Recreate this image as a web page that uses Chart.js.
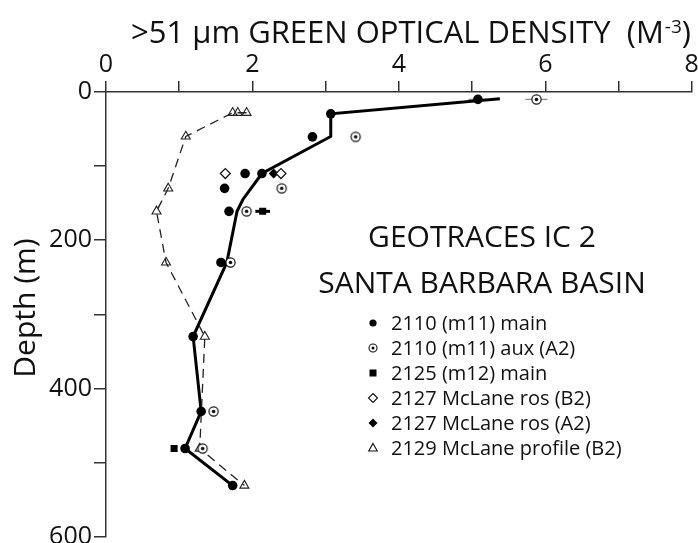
<!DOCTYPE html>
<html>
<head>
<meta charset="utf-8">
<script src="https://cdn.jsdelivr.net/npm/chart.js@4.4.0/dist/chart.umd.min.js"></script>
<style>
  html, body { margin: 0; padding: 0; background: #fff; }
  #wrap { width: 698px; height: 543px; }
</style>
</head>
<body>
<div id="wrap"><canvas id="chart" width="698" height="543"></canvas></div>
<script>
const FONT = "'Open Sans', sans-serif";

// tick labels (only these get text, the odd ones are bare ticks)
const xLabelTicks = [0, 2, 4, 6, 8];
const yLabelTicks = [0, 200, 400, 600];

// 2110 (m11) main
const mainX = [5.08, 3.07, 2.82, 1.90, 2.13, 1.62, 1.68, 1.57, 1.19, 1.30, 1.08, 1.73];
const mainDepth = [10, 29.5, 60.5, 110, 110, 130, 161, 230, 330, 431, 481, 531];
const mainErr = [0.13, 0, 0, 0, 0, 0, 0, 0, 0, 0, 0, 0];

// 2110 (m11) aux (A2)
const auxX = [5.88, 3.41, 2.40, 1.92, 1.70, 1.47, 1.32];
const auxDepth = [10, 60.5, 130, 161, 230, 431, 481];
const auxErr = [0.15, 0, 0, 0, 0, 0, 0];

// 2125 (m12) main
const sqX = [2.14, 0.93];
const sqDepth = [161, 481];
const sqErr = [0.1, 0];

// 2127 McLane ros (B2) / (A2)
const rosBX = [1.63, 2.39];
const rosBDepth = [110, 110];
const rosAX = [2.29];
const rosADepth = [110];

// 2129 McLane profile (B2)
const profX = [1.92, 1.80, 1.73, 1.09, 0.85, 0.69, 0.82, 1.35, 1.28, 1.89];
const profDepth = [28, 28, 28, 60, 130, 161, 230, 330, 481, 531];

// mean profile (thick line)
const meanX = [5.38, 3.07, 3.07, 2.13, 1.87, 1.79, 1.65, 1.19, 1.30, 1.08, 1.73];
const meanDepth = [9, 29.5, 60, 110, 145, 161, 230, 330, 431, 481, 531];

const legendLabels = [
  '2110 (m11) main',
  '2110 (m11) aux (A2)',
  '2125 (m12) main',
  '2127 McLane ros (B2)',
  '2127 McLane ros (A2)',
  '2129 McLane profile (B2)'
];

function pts(xs, ys) {
  return xs.map((v, i) => ({ x: v, y: ys[i] }));
}

// circle with a dot in it
const bullseye = (() => {
  const c = document.createElement('canvas');
  c.width = 13; c.height = 13;
  const g = c.getContext('2d');
  g.fillStyle = '#fff';
  g.strokeStyle = '#111';
  g.lineWidth = 1.2;
  g.beginPath(); g.arc(6.5, 6.5, 4.6, 0, Math.PI * 2); g.fill(); g.stroke();
  g.fillStyle = '#111';
  g.beginPath(); g.arc(6.5, 6.5, 1.8, 0, Math.PI * 2); g.fill();
  return c;
})();

const datasets = [
  {
    label: legendLabels[0], data: pts(mainX, mainDepth), xErr: mainErr, errColor: '#8a8a8a', errWidth: 1.3,
    pointStyle: 'circle', pointRadius: 4.8, pointBackgroundColor: '#000', pointBorderColor: '#000', pointBorderWidth: 0
  },
  {
    label: legendLabels[1], data: pts(auxX, auxDepth), xErr: auxErr, errColor: '#8a8a8a', errWidth: 1.3,
    pointStyle: bullseye, pointRadius: 5
  },
  {
    label: legendLabels[2], data: pts(sqX, sqDepth), xErr: sqErr, errColor: '#000', errWidth: 3,
    pointStyle: 'rect', pointRadius: 5, pointBackgroundColor: '#000', pointBorderColor: '#000', pointBorderWidth: 0
  },
  {
    label: legendLabels[3], data: pts(rosBX, rosBDepth),
    pointStyle: 'rectRot', pointRadius: 5, pointBackgroundColor: '#fff', pointBorderColor: '#111', pointBorderWidth: 1.2
  },
  {
    label: legendLabels[4], data: pts(rosAX, rosADepth),
    pointStyle: 'rectRot', pointRadius: 5, pointBackgroundColor: '#000', pointBorderColor: '#000', pointBorderWidth: 0
  },
  {
    label: legendLabels[5], data: pts(profX, profDepth),
    showLine: true, borderColor: '#222', borderWidth: 1.3, borderDash: [9, 6],
    pointStyle: 'triangle', pointRadius: 5.2, pointBackgroundColor: 'rgba(255,255,255,0)',
    pointBorderColor: '#222', pointBorderWidth: 1.1
  },
  {
    label: 'mean', data: pts(meanX, meanDepth),
    showLine: true, borderColor: '#000', borderWidth: 3, pointRadius: 0, tension: 0
  }
];

const errorBars = {
  id: 'errorBars',
  beforeDatasetsDraw(chart) {
    const { ctx, scales: { x, y } } = chart;
    ctx.save();
    chart.data.datasets.forEach(ds => {
      if (!ds.xErr) return;
      ctx.strokeStyle = ds.errColor;
      ctx.lineWidth = ds.errWidth;
      ds.data.forEach((p, i) => {
        const e = ds.xErr[i];
        if (!e) return;
        const py = y.getPixelForValue(p.y);
        ctx.beginPath();
        ctx.moveTo(x.getPixelForValue(p.x - e), py);
        ctx.lineTo(x.getPixelForValue(p.x + e), py);
        ctx.stroke();
      });
    });
    ctx.restore();
  }
};

function legendMarker(ctx, i, cx, cy) {
  ctx.fillStyle = '#000';
  ctx.strokeStyle = '#111';
  ctx.lineWidth = 1.1;
  ctx.beginPath();
  if (i === 0) {
    ctx.arc(cx, cy, 3.6, 0, Math.PI * 2); ctx.fill();
  } else if (i === 1) {
    ctx.arc(cx, cy, 4, 0, Math.PI * 2); ctx.stroke();
    ctx.beginPath(); ctx.arc(cx, cy, 1.5, 0, Math.PI * 2); ctx.fill();
  } else if (i === 2) {
    ctx.fillRect(cx - 3.5, cy - 3.5, 7, 7);
  } else if (i === 3 || i === 4) {
    ctx.moveTo(cx, cy - 4.5); ctx.lineTo(cx + 4.5, cy); ctx.lineTo(cx, cy + 4.5); ctx.lineTo(cx - 4.5, cy); ctx.closePath();
    if (i === 3) ctx.stroke(); else ctx.fill();
  } else {
    ctx.moveTo(cx, cy - 4.6); ctx.lineTo(cx + 4.3, cy + 3); ctx.lineTo(cx - 4.3, cy + 3); ctx.closePath();
    ctx.stroke();
  }
}

const textLayer = {
  id: 'textLayer',
  afterDraw(chart) {
    const ctx = chart.ctx;
    ctx.save();
    ctx.fillStyle = '#111';
    ctx.textBaseline = 'alphabetic';

    // axis title on top, with superscript
    ctx.textAlign = 'left';
    ctx.font = `31px ${FONT}`;
    let t = '>51 \u00b5m GREEN OPTICAL DENSITY  (M';
    let tx = 131;
    ctx.fillText(t, tx, 43);
    tx += ctx.measureText(t).width;
    ctx.font = `19px ${FONT}`;
    ctx.fillText('-3', tx + 1, 33);
    tx += ctx.measureText('-3').width + 1;
    ctx.font = `31px ${FONT}`;
    ctx.fillText(')', tx, 43);

    // y axis title
    ctx.font = `30px ${FONT}`;
    ctx.save();
    ctx.translate(35, 308);
    ctx.rotate(-Math.PI / 2);
    ctx.textAlign = 'center';
    ctx.fillText('Depth (m)', 0, 0);
    ctx.restore();

    // annotation
    ctx.textAlign = 'center';
    ctx.fillText('GEOTRACES IC 2', 482, 247);
    ctx.fillText('SANTA BARBARA BASIN', 482, 293);

    // legend
    ctx.textAlign = 'left';
    ctx.textBaseline = 'middle';
    ctx.font = `20px ${FONT}`;
    legendLabels.forEach((lab, i) => {
      const cy = 323 + i * 25;
      legendMarker(ctx, i, 373, cy);
      ctx.fillStyle = '#111';
      ctx.fillText(lab, 391, cy + 1);
    });
    ctx.restore();
  }
};

const axisGrid = (len) => ({
  drawOnChartArea: false, drawTicks: true, tickLength: len, color: '#333', lineWidth: 1.5
});

new Chart(document.getElementById('chart'), {
  type: 'scatter',
  data: { datasets },
  options: {
    responsive: false,
    animation: false,
    devicePixelRatio: 1,
    layout: { padding: { left: 0, top: 0, right: 6, bottom: 6 } },
    plugins: { legend: { display: false }, tooltip: { enabled: false } },
    scales: {
      x: {
        type: 'linear', position: 'top', min: 0, max: 8,
        ticks: {
          stepSize: 1, autoSkip: false, maxRotation: 0, padding: 1, color: '#111',
          font: { family: FONT, size: 25 },
          callback: v => xLabelTicks.includes(v) ? String(v) : ''
        },
        grid: axisGrid(11),
        border: { display: true, color: '#333', width: 1.5 },
        afterFit: s => { s.height = 92; s.paddingLeft = 0; s.paddingRight = 0; }
      },
      y: {
        type: 'linear', reverse: true, min: 0, max: 600,
        ticks: {
          stepSize: 100, autoSkip: false, padding: 2, color: '#111',
          font: { family: FONT, size: 25 },
          callback: v => yLabelTicks.includes(v) ? String(v) : ''
        },
        grid: axisGrid(12),
        border: { display: true, color: '#333', width: 1.5 },
        afterFit: s => { s.width = 106; s.paddingTop = 0; s.paddingBottom = 0; }
      }
    }
  },
  plugins: [errorBars, textLayer]
});
</script>
</body>
</html>
